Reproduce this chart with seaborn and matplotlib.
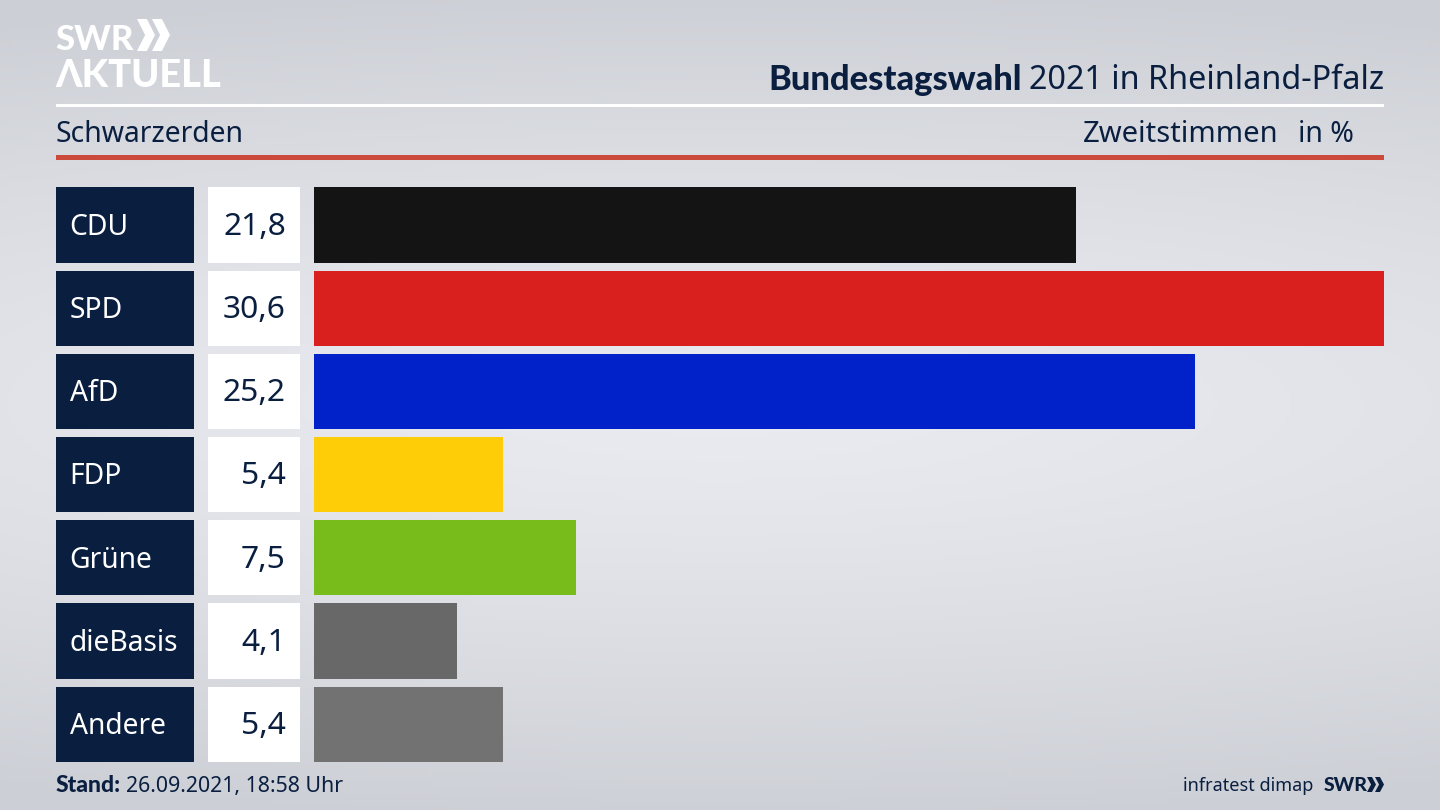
import matplotlib
matplotlib.use('Agg')
import matplotlib.pyplot as plt
from matplotlib.patches import Polygon, Rectangle
from matplotlib.transforms import blended_transform_factory
import numpy as np
import pandas as pd
import seaborn as sns

parties = ['CDU', 'SPD', 'AfD', 'FDP', 'Grüne', 'dieBasis', 'Andere']
values = [21.8, 30.6, 25.2, 5.4, 7.5, 4.1, 5.4]
value_labels = ['21,8', '30,6', '25,2', '5,4', '7,5', '4,1', '5,4']
colors = ['#141414', '#d9201f', '#0022c8', '#ffcc08', '#78bc1b', '#686868', '#727273']

NAVY = '#0a1f40'
W, H = 1440, 810

sns.set_theme(style='white')
plt.rcParams['font.family'] = ['Noto Sans', 'DejaVu Sans']

fig = plt.figure(figsize=(W / 100, H / 100), dpi=100)

# background, lighter in the middle
bg = fig.add_axes([0, 0, 1, 1], zorder=0)
yy, xx = np.mgrid[0:1:200j, 0:1:356j]
dist = np.sqrt(((xx - 0.5) / 1.3) ** 2 + ((yy - 0.5) / 0.52) ** 2)
grad = np.clip(dist, 0, 1) ** 1.3
top = np.array([0xea, 0xeb, 0xf0]) / 255
edge = np.array([0xcc, 0xcf, 0xd5]) / 255
bg.imshow(top + (edge - top) * grad[..., None], aspect='auto', extent=[0, W, H, 0])
bg.set_xlim(0, W)
bg.set_ylim(H, 0)
bg.axis('off')

# bars, x range 0-30.6 sits on pixels 314-1384
pitch = 83.2
row0 = 225
ax_top = row0 - pitch / 2
ax_h = pitch * len(parties)
ax = fig.add_axes([314 / W, 1 - (ax_top + ax_h) / H, 1070 / W, ax_h / H], zorder=1)
ax.patch.set_alpha(0)
df = pd.DataFrame({'party': parties, 'value': values})
sns.barplot(data=df, y='party', x='value', hue='party', palette=colors, width=0.905,
            saturation=1, legend=False, dodge=False, linewidth=0, ax=ax)
ax.set_xlim(0, max(values))
ax.set_ylim(len(parties) - 0.5, -0.5)
ax.axis('off')
bar_h = ax.patches[0].get_height()

# label and value cells share the rows of the bars
over = fig.add_axes([0, 0, 1, 1], zorder=2)
over.set_xlim(0, W)
over.set_ylim(H, 0)
over.axis('off')
over.patch.set_alpha(0)
row = blended_transform_factory(over.transData, ax.transData)
for i, (party, label) in enumerate(zip(parties, value_labels)):
    over.add_patch(Rectangle((56, i - bar_h / 2), 137.5, bar_h, fc=NAVY, ec='none', transform=row))
    over.add_patch(Rectangle((208, i - bar_h / 2), 92, bar_h, fc='white', ec='none', transform=row))
    over.text(69.5, i - 0.015, party, color='white', fontsize=20.3, va='center_baseline', transform=row)
    over.text(286, i - 0.02, label, color=NAVY, fontsize=22.9, ha='right', va='center_baseline', transform=row)

# header
bold_font = ['Lato', 'DejaVu Sans']
over.text(768, 90, 'Bundestagswahl', color=NAVY, fontsize=24.8, fontweight='black', va='baseline', family=bold_font)
over.text(1384, 89, '2021 in Rheinland-Pfalz', color=NAVY, fontsize=23.3, ha='right', va='baseline')
over.text(55.5, 142, 'Schwarzerden', color=NAVY, fontsize=20.4, va='baseline')
over.text(1083, 142, 'Zweitstimmen', color=NAVY, fontsize=21, va='baseline')
over.text(1354, 142, 'in %', color=NAVY, fontsize=20.5, ha='right', va='baseline')
over.add_patch(Rectangle((56, 104), 1328, 3, fc='white', ec='none'))
over.add_patch(Rectangle((56, 155), 1328, 5, fc='#cc4a3b', ec='none'))

# logo top left
over.text(55, 50, 'SWR', color='white', fontsize=25, fontweight='black', va='baseline', family=bold_font)
over.text(55, 87, 'ΛKTUELL', color='white', fontsize=27.4, fontweight='black', va='baseline', family=bold_font)


def chevrons(x, y, h, w, gap, color):
    for k in range(2):
        x0 = x + k * gap
        over.add_patch(Polygon([(x0, y), (x0 + w * 0.55, y), (x0 + w, y + h / 2),
                                (x0 + w * 0.55, y + h), (x0, y + h), (x0 + w * 0.45, y + h / 2)],
                               closed=True, fc=color, ec='none'))


chevrons(137, 19, 32, 18, 15, 'white')

# footer
over.text(56, 792, 'Stand:', color=NAVY, fontsize=16.5, fontweight='black', va='baseline', family=bold_font)
over.text(126, 792, '26.09.2021, 18:58 Uhr', color=NAVY, fontsize=15.35, va='baseline')
over.text(1183, 791, 'infratest dimap', color=NAVY, fontsize=13, va='baseline')
over.text(1324, 791, 'SWR', color=NAVY, fontsize=14, fontweight='black', va='baseline', family=bold_font)
chevrons(1367, 777, 15, 9, 8, NAVY)

fig.savefig('out.png', dpi=100)
